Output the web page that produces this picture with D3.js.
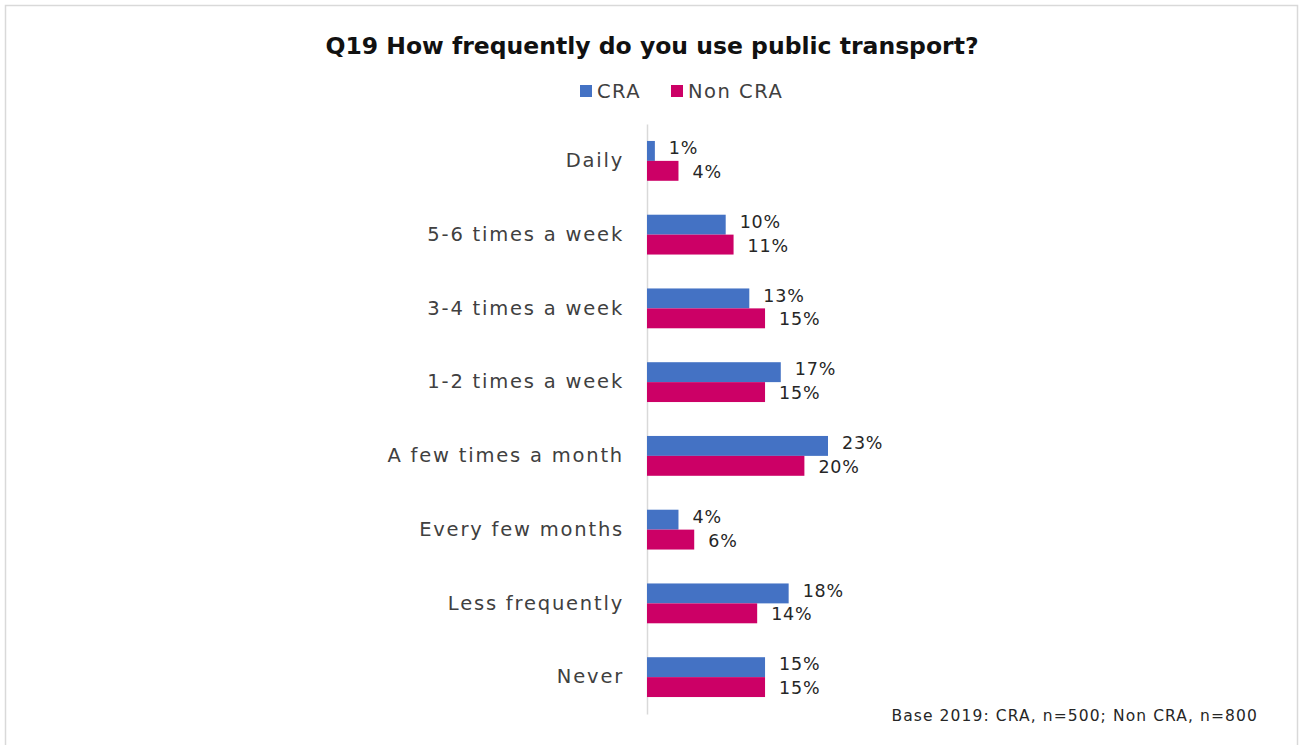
<!DOCTYPE html>
<html>
<head>
<meta charset="utf-8">
<script src="https://cdn.jsdelivr.net/npm/d3@7"></script>
<style>
  html, body { margin: 0; padding: 0; background: #fff; }
  svg { display: block; }
  text { font-family: "DejaVu Sans", "Noto Sans", sans-serif; }
</style>
</head>
<body>
<svg id="chart" width="1303" height="745"></svg>
<script>
// Survey answers, top to bottom
const categories = ["Daily", "5-6 times a week", "3-4 times a week", "1-2 times a week",
  "A few times a month", "Every few months", "Less frequently", "Never"];
const seriesNames = ["CRA", "Non CRA"];
const craValues = [1, 10, 13, 17, 23, 4, 18, 15];
const nonCraValues = [4, 11, 15, 15, 20, 6, 14, 15];
const colors = ["#4472C4", "#CC0066"];

const svg = d3.select("#chart");
const W = 1303, H = 745;

// frame
svg.append("rect").attr("x", 5.5).attr("y", 5.5).attr("width", W - 11).attr("height", H + 10)
  .attr("fill", "#fff").attr("stroke", "#d9d9d9").attr("stroke-width", 1.5);

const x0 = 647;
const x = d3.scaleLinear().domain([0, 23]).range([x0, x0 + 181]);
const y = d3.scaleBand().domain(categories).range([124, 714]).paddingInner(0.46).paddingOuter(0.23);
const sub = d3.scaleBand().domain(seriesNames).range([0, y.bandwidth()]);

// title
svg.append("text").attr("x", 652).attr("y", 54).attr("text-anchor", "middle")
  .attr("font-size", 23.5).attr("font-weight", "bold").attr("fill", "#111")
  .text("Q19 How frequently do you use public transport?");

// legend
const legend = svg.append("g").attr("transform", "translate(580,91)");
const legendX = [0, 91];
seriesNames.forEach((s, i) => {
  const g = legend.append("g").attr("transform", `translate(${legendX[i]},0)`);
  g.append("rect").attr("x", 0).attr("y", -6).attr("width", 12).attr("height", 12).attr("fill", colors[i]);
  g.append("text").attr("x", 17).attr("y", 0).attr("dy", "0.35em")
    .attr("font-size", 19.5).attr("letter-spacing", 1.5).attr("fill", "#404040").text(s);
});

const rows = categories.map((c, i) => ({ c, vals: [craValues[i], nonCraValues[i]] }));

// category axis
const axis = d3.axisLeft(y).tickSize(0).tickPadding(23);
const axg = svg.append("g").attr("transform", `translate(${x0},0)`).call(axis);
axg.select(".domain").attr("stroke", "#d9d9d9").attr("stroke-width", 1.5);
axg.selectAll("text").attr("font-size", 19.5).attr("letter-spacing", 1.8).attr("fill", "#404040")
  .attr("font-family", "\"DejaVu Sans\", sans-serif");

// bars and value labels
const groups = svg.append("g").selectAll("g").data(rows).join("g")
  .attr("transform", d => `translate(0,${y(d.c)})`);

groups.selectAll("rect").data(d => d.vals.map((v, i) => ({ v, s: seriesNames[i], i })))
  .join("rect")
  .attr("x", x0)
  .attr("y", d => sub(d.s))
  .attr("width", d => x(d.v) - x0)
  .attr("height", sub.bandwidth())
  .attr("fill", d => colors[d.i]);

groups.selectAll("text.val").data(d => d.vals.map((v, i) => ({ v, s: seriesNames[i], i })))
  .join("text").attr("class", "val")
  .attr("x", d => x(d.v) + 14)
  .attr("y", d => sub(d.s) + sub.bandwidth() / 2 + (d.i === 0 ? -3 : 1))
  .attr("dy", "0.35em")
  .attr("font-size", 17.5).attr("letter-spacing", 0.8).attr("fill", "#262626")
  .text(d => d.v + "%");

// base note
svg.append("text").attr("x", 1258).attr("y", 716).attr("dy", "0.35em").attr("text-anchor", "end")
  .attr("font-size", 15.5).attr("letter-spacing", 1.1).attr("fill", "#262626")
  .text("Base 2019: CRA, n=500; Non CRA, n=800");
</script>
</body>
</html>
